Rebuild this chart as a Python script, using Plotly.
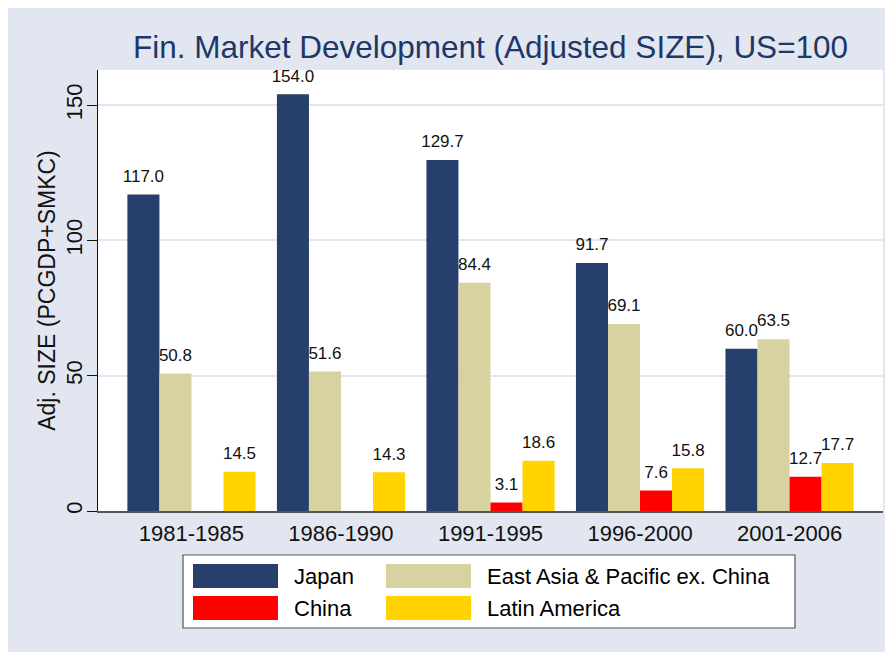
import plotly.graph_objects as go

periods = ["1981-1985", "1986-1990", "1991-1995", "1996-2000", "2001-2006"]
series_names = ["Japan", "East Asia & Pacific ex. China", "China", "Latin America"]
japan = [117.0, 154.0, 129.7, 91.7, 60.0]
east_asia = [50.8, 51.6, 84.4, 69.1, 63.5]
china = [None, None, 3.1, 7.6, 12.7]
latin_america = [14.5, 14.3, 18.6, 15.8, 17.7]
y_ticks = [0, 50, 100, 150]

colors = ["#263F6C", "#D7D29F", "#FF0000", "#FFD200"]
values = [japan, east_asia, china, latin_america]
BG = "#E1E6F0"
FONT = "Liberation Sans, Arial"

fig = go.Figure()
for i, (name, vals, col) in enumerate(zip(series_names, values, colors)):
    fig.add_trace(go.Bar(
        x=periods, y=vals, name=name, offsetgroup=str(i),
        marker=dict(color=col, line=dict(width=0)),
        showlegend=False,
    ))
for i, (name, vals) in enumerate(zip(series_names, values)):
    fig.add_trace(go.Scatter(
        x=periods, y=vals, name=name + " labels", offsetgroup=str(i),
        mode="markers+text", marker=dict(size=12, color="rgba(0,0,0,0)"),
        text=[None if v is None else f"{v:.1f}" for v in vals],
        textposition="top center",
        textfont=dict(size=17, color="#111111", family=FONT),
        cliponaxis=False, showlegend=False,
    ))

W, H = 893, 652
L, R, T, B = 90, 18, 62, 149
pw, ph = W - L - R, H - T - B

def px(x):
    return (x - L) / pw

def py(y):
    return (H - B - y) / ph

shapes = []
annotations = []
# legend box (figure pixel coords)
shapes.append(dict(type="rect", xref="paper", yref="paper", x0=px(175), x1=px(787), y0=py(620), y1=py(547),
                   fillcolor="white", line=dict(color="#555555", width=1.2)))
cols = [(185, 270, 284), (378, 463, 477)]
rows = [(556, 580), (588, 612)]
for i, (name, col) in enumerate(zip(series_names, colors)):
    c = cols[i % 2]
    r = rows[i // 2]
    shapes.append(dict(type="rect", xref="paper", yref="paper", x0=px(c[0]), x1=px(c[1]),
                       y0=py(r[1]), y1=py(r[0]), fillcolor=col, line=dict(width=0)))
    annotations.append(dict(text=name, xref="paper", yref="paper", x=px(c[2]), y=py((r[0] + r[1]) / 2),
                            xanchor="left", yanchor="middle", showarrow=False,
                            font=dict(size=22, color="#000000", family=FONT)))

fig.update_layout(
    width=W, height=H,
    margin=dict(l=L, r=R, t=T, b=B, autoexpand=False),
    paper_bgcolor=BG, plot_bgcolor="white",
    barmode="group", bargap=0.143, bargroupgap=0,
    scattermode="group", scattergap=0.143,
    hovermode=False,
    title=dict(text="Fin. Market Development (Adjusted SIZE), US=100",
               xref="paper", x=0.5, xanchor="center", y=1 - 39 / H, yanchor="middle",
               font=dict(size=31.5, color="#1E3768", family=FONT)),
    font=dict(family=FONT, color="#111111"),
    shapes=shapes, annotations=annotations,
    xaxis=dict(type="category", range=[-0.625, 4.625], showline=True, linecolor="#555555", linewidth=1.5,
               ticks="", showgrid=False, tickfont=dict(size=22, color="#111111"), ticklabelstandoff=2),
    yaxis=dict(range=[0, 163], tickvals=y_ticks, showline=True, linecolor="#111111", linewidth=1,
               ticks="outside", ticklen=10, tickcolor="#111111", tickangle=-90,
               showgrid=True, gridcolor=BG, gridwidth=1.5, zeroline=False,
               tickfont=dict(size=22, color="#111111"), ticklabelstandoff=-4,
               title=dict(text="Adj. SIZE (PCGDP+SMKC)", font=dict(size=23, color="#111111"), standoff=0)),
)
fig.write_html("out.html")
